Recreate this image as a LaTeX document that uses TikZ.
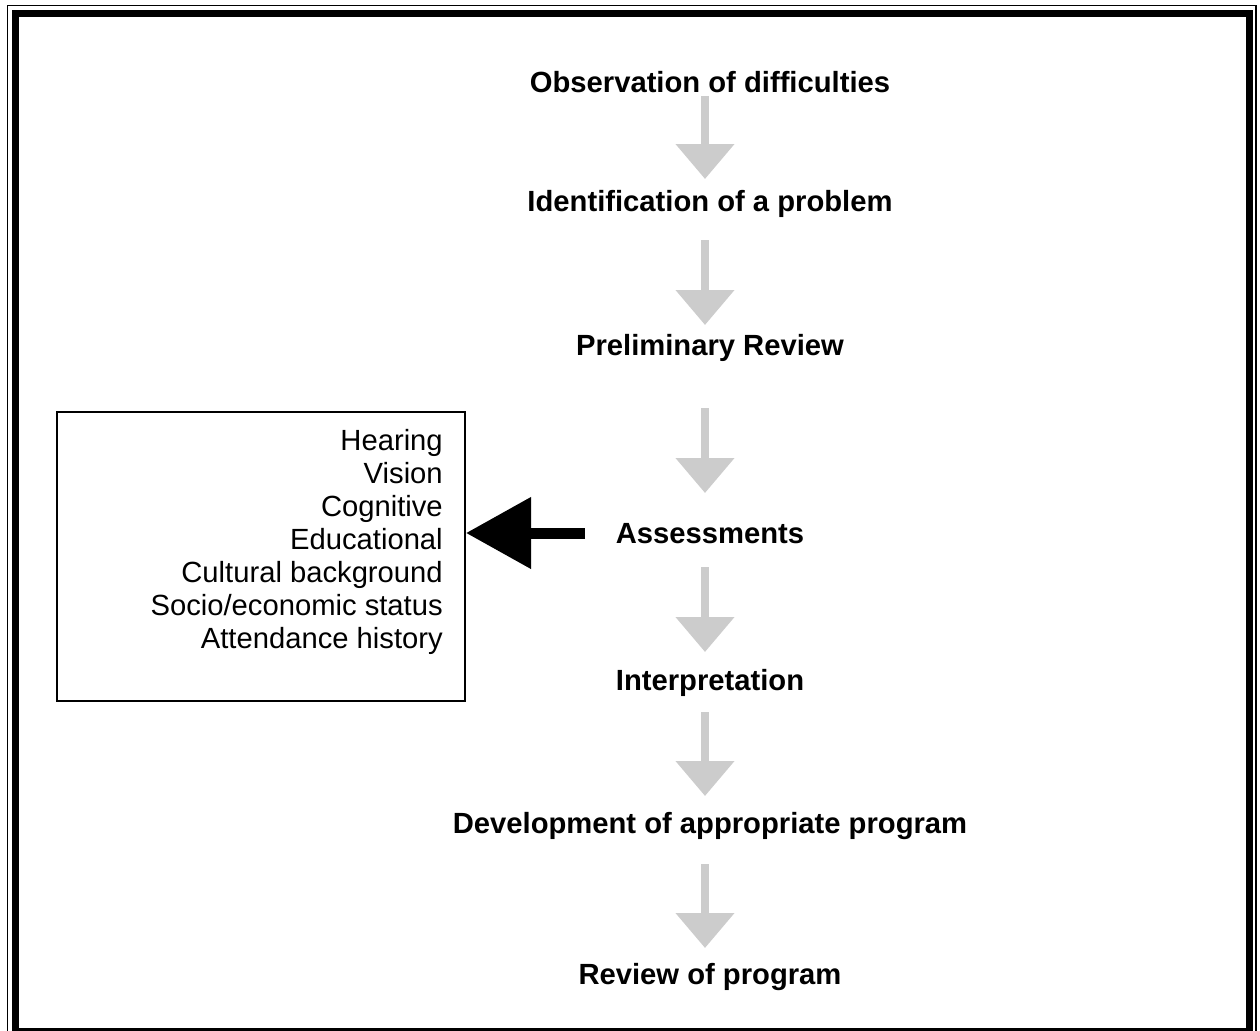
\documentclass[tikz,border=0pt]{standalone}
\usepackage{fontspec}
\setmainfont{Liberation Sans}
\usetikzlibrary{arrows.meta}
\definecolor{arrowgray}{HTML}{CCCCCC}
\begin{document}
\begin{tikzpicture}[x=0.75pt,y=-0.75pt,
  steplabel/.style={anchor=base,inner sep=0pt,font=\fontsize{21.9}{24.75}\selectfont\bfseries},
  grayarrow/.style={draw=arrowgray,line width=6pt,-{Triangle[length=26.25pt,width=42.75pt]}},
  blackarrow/.style={draw=black,line width=8.25pt,-{Triangle[length=48.75pt,width=51.75pt]}},
  listbox/.style={draw=black,line width=1.5pt,minimum width=306pt,minimum height=216.75pt,inner sep=0pt},
  listtext/.style={anchor=base east,inner sep=0pt,align=right,font=\fontsize{21.9}{24.75}\selectfont}
]
\useasboundingbox (0,0) rectangle (1260,1031);
\fill[white] (0,0) rectangle (1260,1031);
\clip (0,0) rectangle (1260,1031);
% frame
\draw[line width=0.9pt] (7.5,5.5) rectangle (1256,1040);
\draw[line width=5.25pt] (15.5,13.5) rectangle (1249.5,1031.5);

% step labels
\node[steplabel] (obs) at (710,93) {Observation of difficulties};
\node[steplabel] (ident) at (710,211) {Identification of a problem};
\node[steplabel] (prelim) at (710,355) {Preliminary Review};
\node[steplabel] (assess) at (710,543) {Assessments};
\node[steplabel] (interp) at (710,690) {Interpretation};
\node[steplabel] (devel) at (710,833) {Development of appropriate program};
\node[steplabel] (review) at (710,984) {Review of program};

% gray arrow endpoints
\coordinate (a1s) at (705,96);  \coordinate (a1e) at (705,179);
\coordinate (a2s) at (705,240); \coordinate (a2e) at (705,325);
\coordinate (a3s) at (705,408); \coordinate (a3e) at (705,493);
\coordinate (a4s) at (705,567); \coordinate (a4e) at (705,652);
\coordinate (a5s) at (705,712); \coordinate (a5e) at (705,796);
\coordinate (a6s) at (705,864); \coordinate (a6e) at (705,948);
\draw[grayarrow] (a1s) -- (a1e);
\draw[grayarrow] (a2s) -- (a2e);
\draw[grayarrow] (a3s) -- (a3e);
\draw[grayarrow] (a4s) -- (a4e);
\draw[grayarrow] (a5s) -- (a5e);
\draw[grayarrow] (a6s) -- (a6e);

% list box
\node[listbox] (box) at (261,556.5) {};
\node[listtext] (items) at (443,648) {Hearing\\Vision\\Cognitive\\Educational\\Cultural background\\Socio/economic status\\Attendance history};

% black arrow
\coordinate (bstart) at (585,533);
\coordinate (bend) at (466,533);
\draw[blackarrow] (bstart) -- (bend);
\end{tikzpicture}
\end{document}
